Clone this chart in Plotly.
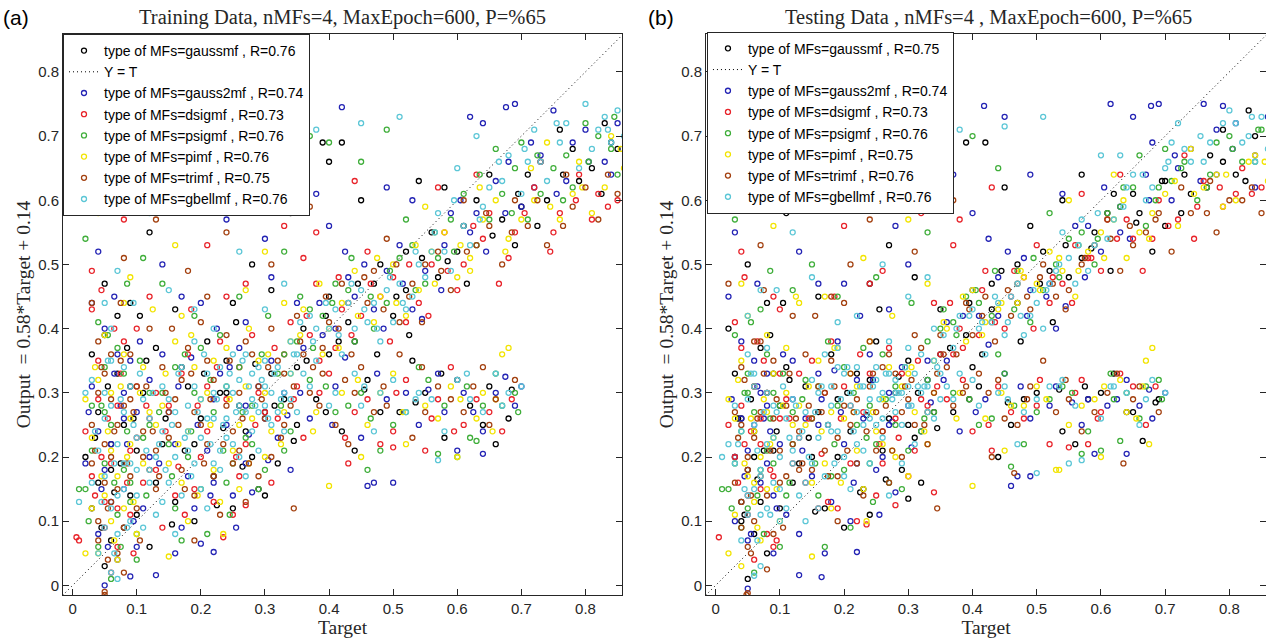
import plotly.graph_objects as go

# ---------------- data ----------------
names = ["gaussmf", "gauss2mf", "dsigmf", "psigmf", "pimf", "trimf", "gbellmf"]
colors = ["#000000", "#2323b4", "#e8232a", "#3fae3a", "#f2e400", "#a3400f", "#5bc6d6"]
train_R = ["0.76", "0.74", "0.73", "0.76", "0.76", "0.75", "0.76"]
test_R = ["0.75", "0.74", "0.73", "0.76", "0.75", "0.76", "0.76"]
tick_vals = [0, 0.1, 0.2, 0.3, 0.4, 0.5, 0.6, 0.7, 0.8]
tick_labels = ["0", "0.1", "0.2", "0.3", "0.4", "0.5", "0.6", "0.7", "0.8"]
identity_line = [-0.02, 0.87]

train_gaussmf = [(0.03,0.12),(0.05,0.03),(0.06,0.18),(0.04,0.27),(0.08,0.09),(0.07,0.33),(0.10,0.21),(0.05,0.39),(0.09,0.14),(0.11,0.30),(0.03,0.36),(0.06,0.07),(0.08,0.25),(0.04,0.16),(0.12,0.06),(0.07,0.42),(0.02,0.20),(0.10,0.11),
    (0.14,0.22),(0.18,0.31),(0.22,0.17),(0.26,0.28),(0.31,0.33),(0.16,0.13),(0.20,0.26),(0.24,0.35),(0.28,0.20),(0.33,0.29),(0.13,0.37),(0.19,0.10),(0.23,0.30),(0.29,0.15),(0.35,0.25),(0.17,0.34),(0.27,0.24),(0.21,0.38),(0.32,0.19),(0.25,0.12),
    (0.38,0.29),(0.42,0.24),(0.46,0.32),(0.51,0.27),(0.55,0.30),(0.58,0.23),(0.62,0.28),(0.65,0.31),(0.68,0.26),(0.44,0.21),(0.53,0.35),(0.66,0.22),
    (0.36,0.40),(0.40,0.45),(0.44,0.38),(0.48,0.50),(0.52,0.46),(0.56,0.55),(0.60,0.52),(0.63,0.60),(0.67,0.57),(0.71,0.64),(0.74,0.60),(0.78,0.68),(0.81,0.65),(0.84,0.69),(0.50,0.42),(0.58,0.62),(0.69,0.53),(0.76,0.71),
    (0.05,0.47),(0.12,0.55),(0.20,0.62),(0.28,0.50),(0.34,0.58),(0.09,0.44),(0.40,0.66),(0.25,0.44),
    (0.39,0.69),(0.42,0.69),(0.30,0.14),(0.85,0.68),
    (0.06,0.22),(0.09,0.31),(0.13,0.16),(0.19,0.22),(0.24,0.30),(0.30,0.27),(0.35,0.34),(0.40,0.36),(0.43,0.41),(0.47,0.47),(0.52,0.52),(0.57,0.48),(0.61,0.56),(0.65,0.64),(0.70,0.59),(0.73,0.66),(0.79,0.63),(0.83,0.72),(0.48,0.27),(0.60,0.32),(0.64,0.25),(0.16,0.43),(0.31,0.46),(0.45,0.60),(0.54,0.63)]
train_gaussmf_more = [(0.035,0.23),(0.055,0.31),(0.075,0.19),(0.085,0.37),(0.045,0.09),(0.095,0.26),(0.065,0.145),(0.115,0.35),
    (0.145,0.26),(0.175,0.21),(0.205,0.33),(0.235,0.245),(0.265,0.185),(0.285,0.345),(0.315,0.28),(0.345,0.225),(0.155,0.095),(0.225,0.125),
    (0.365,0.35),(0.395,0.42),(0.415,0.38),(0.445,0.47),(0.475,0.36),(0.505,0.45),(0.525,0.39),(0.545,0.51),
    (0.585,0.505),(0.615,0.47),(0.655,0.545),(0.695,0.61),(0.725,0.56),(0.765,0.64),(0.825,0.61),
    (0.395,0.27),(0.455,0.305),(0.535,0.285),(0.575,0.33),(0.685,0.305),(0.105,0.42),(0.255,0.41)]
train_gauss2mf = [(0.04,0.08),(0.06,0.22),(0.03,0.31),(0.08,0.15),(0.05,0.40),(0.10,0.27),(0.07,0.04),(0.02,0.19),(0.09,0.35),(0.11,0.12),(0.05,0.00),(0.06,0.13),(0.04,0.24),(0.08,0.30),(0.12,0.20),(0.03,0.44),(0.07,0.36),(0.10,0.06),
    (0.15,0.27),(0.19,0.12),(0.23,0.33),(0.27,0.19),(0.30,0.26),(0.14,0.36),(0.21,0.21),(0.25,0.14),(0.29,0.31),(0.34,0.18),(0.17,0.09),(0.22,0.29),(0.26,0.37),(0.32,0.23),(0.18,0.17),(0.28,0.145),(0.24,0.25),(0.31,0.35),(0.20,0.065),(0.16,0.05),
    (0.37,0.26),(0.41,0.31),(0.45,0.23),(0.49,0.29),(0.54,0.25),(0.57,0.33),(0.61,0.30),(0.64,0.24),(0.69,0.28),(0.47,0.16),(0.60,0.21),(0.70,0.31),
    (0.35,0.44),(0.39,0.39),(0.43,0.48),(0.47,0.43),(0.51,0.53),(0.55,0.49),(0.59,0.58),(0.62,0.55),(0.66,0.63),(0.70,0.59),(0.73,0.67),(0.77,0.63),(0.80,0.71),(0.83,0.66),(0.53,0.60),(0.64,0.72),(0.75,0.74),(0.85,0.72),
    (0.04,0.52),(0.10,0.60),(0.17,0.45),(0.24,0.57),(0.31,0.48),(0.38,0.61),(0.14,0.50),(0.30,0.54),
    (0.22,0.052),(0.13,0.016),(0.46,0.155),(0.50,0.16),(0.64,0.205),(0.09,0.014),(0.42,0.745),(0.676,0.745),(0.69,0.75),(0.62,0.73),
    (0.05,0.18),(0.08,0.26),(0.12,0.32),(0.16,0.22),(0.22,0.16),(0.27,0.28),(0.33,0.30),(0.36,0.37),(0.41,0.40),(0.44,0.45),(0.49,0.49),(0.53,0.43),(0.58,0.53),(0.63,0.58),(0.68,0.66),(0.72,0.62),(0.78,0.69),(0.84,0.64),(0.52,0.30),(0.58,0.27),(0.66,0.30),(0.20,0.44),(0.27,0.41),(0.40,0.56),(0.49,0.62)]
train_gauss2mf_more = [(0.025,0.27),(0.045,0.15),(0.065,0.33),(0.085,0.22),(0.105,0.38),(0.055,0.06),(0.075,0.28),(0.095,0.10),
    (0.135,0.19),(0.165,0.31),(0.195,0.25),(0.215,0.14),(0.245,0.34),(0.275,0.235),(0.305,0.195),(0.335,0.265),(0.185,0.355),(0.255,0.09),
    (0.355,0.30),(0.385,0.44),(0.425,0.355),(0.455,0.50),(0.485,0.40),(0.515,0.47),(0.545,0.415),(0.425,0.52),
    (0.575,0.46),(0.605,0.60),(0.645,0.52),(0.675,0.58),(0.715,0.69),(0.755,0.61),(0.805,0.66),
    (0.405,0.25),(0.475,0.33),(0.555,0.305),(0.625,0.27),(0.675,0.325),(0.065,0.45),(0.225,0.40)]
train_dsigmf = [(0.03,0.17),(0.05,0.09),(0.07,0.28),(0.04,0.35),(0.09,0.21),(0.06,0.02),(0.11,0.16),(0.02,0.24),(0.08,0.38),(0.10,0.31),(0.05,0.13),(0.03,0.43),(0.07,0.06),(0.12,0.26),(0.06,0.19),(0.09,0.11),(0.04,0.29),(0.01,0.07),
    (0.13,0.18),(0.17,0.33),(0.21,0.24),(0.25,0.11),(0.29,0.30),(0.33,0.36),(0.15,0.28),(0.19,0.15),(0.23,0.38),(0.27,0.22),(0.31,0.16),(0.14,0.09),(0.20,0.20),(0.26,0.34),(0.30,0.27),(0.18,0.36),(0.24,0.29),(0.22,0.13),(0.28,0.39),(0.35,0.31),
    (0.36,0.23),(0.40,0.33),(0.44,0.27),(0.48,0.22),(0.52,0.32),(0.56,0.26),(0.59,0.34),(0.63,0.29),(0.67,0.24),(0.43,0.19),(0.55,0.21),(0.61,0.25),
    (0.34,0.41),(0.38,0.47),(0.42,0.43),(0.46,0.52),(0.50,0.48),(0.54,0.44),(0.58,0.55),(0.61,0.50),(0.65,0.58),(0.69,0.55),(0.72,0.62),(0.76,0.58),(0.79,0.64),(0.82,0.61),(0.85,0.60),(0.57,0.62),(0.73,0.66),(0.63,0.64),
    (0.03,0.49),(0.08,0.57),(0.15,0.61),(0.21,0.53),(0.27,0.47),(0.33,0.56),(0.12,0.45),(0.36,0.51),(0.19,0.61),(0.44,0.63),
    (0.006,0.075),(0.27,0.125),(0.50,0.215),
    (0.07,0.12),(0.10,0.23),(0.13,0.30),(0.16,0.14),(0.21,0.31),(0.26,0.17),(0.32,0.26),(0.37,0.39),(0.41,0.37),(0.45,0.42),(0.48,0.45),(0.52,0.41),(0.56,0.50),(0.60,0.46),(0.64,0.54),(0.68,0.51),(0.75,0.55),(0.81,0.57),(0.46,0.29),(0.50,0.24),(0.57,0.29),(0.65,0.27),(0.10,0.40),(0.24,0.45),(0.38,0.55)]
train_dsigmf_more = [(0.035,0.14),(0.055,0.26),(0.075,0.33),(0.095,0.05),(0.045,0.20),(0.085,0.16),(0.115,0.28),(0.065,0.40),
    (0.145,0.24),(0.175,0.11),(0.195,0.28),(0.225,0.34),(0.255,0.20),(0.285,0.25),(0.315,0.37),(0.345,0.29),(0.165,0.185),(0.235,0.075),
    (0.365,0.42),(0.385,0.35),(0.415,0.48),(0.435,0.39),(0.465,0.47),(0.495,0.38),(0.525,0.50),(0.555,0.42),
    (0.585,0.49),(0.625,0.56),(0.665,0.47),(0.705,0.58),(0.745,0.52),(0.785,0.60),(0.835,0.59),
    (0.385,0.30),(0.425,0.23),(0.505,0.30),(0.595,0.24),(0.685,0.29),(0.045,0.46),(0.185,0.43)]
train_psigmf = [(0.04,0.06),(0.06,0.25),(0.02,0.15),(0.08,0.33),(0.05,0.19),(0.10,0.08),(0.07,0.37),(0.03,0.28),(0.09,0.13),(0.11,0.23),(0.06,0.01),(0.04,0.41),(0.08,0.18),(0.12,0.30),(0.05,0.34),(0.07,0.11),(0.03,0.21),(0.10,0.04),
    (0.14,0.30),(0.18,0.20),(0.22,0.27),(0.26,0.34),(0.30,0.18),(0.34,0.24),(0.16,0.12),(0.20,0.37),(0.24,0.16),(0.28,0.28),(0.32,0.33),(0.15,0.22),(0.21,0.08),(0.27,0.23),(0.19,0.30),(0.25,0.19),(0.23,0.39),(0.29,0.15),(0.33,0.21),(0.17,0.07),
    (0.37,0.32),(0.41,0.27),(0.45,0.30),(0.50,0.25),(0.54,0.34),(0.58,0.28),(0.62,0.23),(0.66,0.33),(0.69,0.30),(0.48,0.21),(0.60,0.20),(0.64,0.28),
    (0.35,0.38),(0.39,0.42),(0.43,0.46),(0.47,0.40),(0.51,0.51),(0.55,0.47),(0.59,0.57),(0.63,0.53),(0.67,0.61),(0.71,0.57),(0.75,0.65),(0.78,0.62),(0.82,0.70),(0.85,0.64),(0.52,0.57),(0.66,0.68),(0.80,0.72),(0.70,0.69),
    (0.02,0.54),(0.07,0.62),(0.14,0.47),(0.22,0.59),(0.29,0.64),(0.37,0.70),(0.11,0.51),(0.40,0.69),(0.45,0.66),(0.26,0.45),(0.49,0.71),
    (0.46,0.18),(0.63,0.225),(0.01,0.15),(0.57,0.205),
    (0.05,0.27),(0.09,0.16),(0.12,0.25),(0.16,0.34),(0.20,0.15),(0.24,0.31),(0.28,0.22),(0.33,0.36),(0.37,0.43),(0.41,0.47),(0.44,0.38),(0.49,0.44),(0.53,0.53),(0.57,0.51),(0.61,0.61),(0.65,0.57),(0.69,0.65),(0.73,0.61),(0.77,0.67),(0.84,0.68),(0.43,0.28),(0.52,0.27),(0.67,0.28),(0.19,0.42),(0.33,0.52)]
train_psigmf_more = [(0.025,0.10),(0.045,0.28),(0.065,0.16),(0.085,0.24),(0.105,0.35),(0.055,0.39),(0.075,0.06),(0.115,0.14),
    (0.135,0.27),(0.155,0.17),(0.185,0.24),(0.215,0.32),(0.235,0.21),(0.265,0.27),(0.295,0.36),(0.325,0.28),(0.175,0.36),(0.245,0.11),
    (0.355,0.45),(0.375,0.37),(0.405,0.44),(0.435,0.51),(0.465,0.45),(0.495,0.49),(0.535,0.46),(0.565,0.55),
    (0.595,0.52),(0.635,0.64),(0.685,0.58),(0.725,0.67),(0.765,0.60),(0.805,0.66),(0.845,0.73),
    (0.395,0.31),(0.465,0.26),(0.555,0.32),(0.615,0.31),(0.695,0.27),(0.085,0.47),(0.305,0.42)]
train_pimf = [(0.05,0.14),(0.03,0.23),(0.07,0.04),(0.09,0.26),(0.04,0.32),(0.06,0.10),(0.11,0.19),(0.08,0.36),(0.02,0.29),(0.10,0.08),(0.05,0.39),(0.07,0.17),(0.12,0.27),(0.04,0.05),(0.09,0.22),(0.06,0.30),(0.03,0.12),(0.08,0.44),
    (0.13,0.25),(0.17,0.16),(0.21,0.30),(0.25,0.21),(0.29,0.35),(0.33,0.27),(0.15,0.19),(0.19,0.34),(0.23,0.13),(0.27,0.31),(0.31,0.24),(0.16,0.38),(0.22,0.18),(0.28,0.26),(0.34,0.33),(0.18,0.10),(0.26,0.15),(0.20,0.29),(0.30,0.20),(0.24,0.37),
    (0.38,0.27),(0.42,0.30),(0.46,0.25),(0.50,0.33),(0.55,0.28),(0.59,0.31),(0.63,0.26),(0.67,0.36),(0.68,0.37),(0.45,0.20),(0.52,0.22),(0.66,0.29),
    (0.36,0.43),(0.40,0.40),(0.44,0.49),(0.48,0.45),(0.52,0.42),(0.56,0.52),(0.60,0.48),(0.64,0.57),(0.68,0.54),(0.72,0.60),(0.76,0.57),(0.79,0.66),(0.83,0.62),(0.86,0.65),(0.55,0.59),(0.62,0.51),(0.74,0.69),(0.81,0.58),
    (0.04,0.58),(0.09,0.48),(0.16,0.53),(0.23,0.60),(0.30,0.52),(0.36,0.64),(0.13,0.63),(0.27,0.46),
    (0.40,0.155),(0.60,0.20),(0.15,0.045),(0.02,0.05),
    (0.06,0.21),(0.08,0.12),(0.11,0.34),(0.14,0.28),(0.18,0.24),(0.22,0.35),(0.26,0.25),(0.30,0.30),(0.34,0.38),(0.39,0.36),(0.42,0.44),(0.47,0.41),(0.50,0.50),(0.54,0.46),(0.58,0.55),(0.62,0.49),(0.66,0.60),(0.70,0.57),(0.78,0.61),(0.84,0.70),(0.48,0.30),(0.57,0.26),(0.64,0.30),(0.17,0.42),(0.33,0.44)]
train_pimf_more = [(0.035,0.34),(0.055,0.24),(0.075,0.31),(0.095,0.13),(0.045,0.17),(0.065,0.07),(0.105,0.30),(0.085,0.20),
    (0.145,0.33),(0.165,0.22),(0.195,0.14),(0.215,0.25),(0.245,0.29),(0.275,0.19),(0.305,0.36),(0.325,0.22),(0.185,0.39),(0.235,0.08),
    (0.355,0.39),(0.385,0.47),(0.415,0.37),(0.445,0.42),(0.475,0.51),(0.505,0.44),(0.535,0.53),(0.565,0.47),
    (0.605,0.53),(0.635,0.62),(0.675,0.52),(0.715,0.65),(0.745,0.59),(0.795,0.62),(0.855,0.68),
    (0.375,0.24),(0.445,0.32),(0.515,0.27),(0.605,0.29),(0.655,0.24),(0.125,0.43),(0.275,0.40)]
train_trimf = [(0.04,0.10),(0.06,0.20),(0.08,0.28),(0.05,0.33),(0.07,0.05),(0.03,0.25),(0.09,0.17),(0.10,0.31),(0.06,0.13),(0.04,0.38),(0.08,0.09),(0.11,0.24),(0.05,0.22),(0.07,0.15),(0.09,0.36),(0.03,0.19),(0.06,0.29),(0.12,0.18),(0.08,0.02),(0.05,-0.01),(0.10,0.12),(0.04,0.30),
    (0.13,0.21),(0.16,0.29),(0.19,0.14),(0.22,0.32),(0.25,0.24),(0.28,0.36),(0.31,0.20),(0.34,0.28),(0.14,0.34),(0.17,0.18),(0.20,0.25),(0.23,0.11),(0.26,0.30),(0.29,0.17),(0.32,0.35),(0.15,0.27),(0.18,0.37),(0.21,0.22),(0.24,0.39),(0.27,0.13),(0.30,0.26),(0.33,0.33),(0.19,0.07),(0.25,0.19),
    (0.37,0.30),(0.41,0.25),(0.45,0.34),(0.49,0.28),(0.53,0.23),(0.57,0.31),(0.61,0.27),(0.65,0.25),(0.69,0.32),(0.43,0.22),(0.51,0.36),(0.64,0.34),
    (0.35,0.42),(0.39,0.37),(0.43,0.44),(0.47,0.49),(0.51,0.41),(0.55,0.50),(0.59,0.46),(0.63,0.53),(0.67,0.50),(0.71,0.56),(0.74,0.53),(0.78,0.59),(0.82,0.57),(0.85,0.61),(0.49,0.54),(0.61,0.60),(0.77,0.64),
    (0.03,0.44),(0.08,0.51),(0.13,0.57),(0.18,0.49),(0.24,0.55),(0.31,0.50),(0.37,0.59),(0.06,0.62),(0.21,0.45),(0.28,0.60),
    (0.345,0.12),(0.05,-0.015),
    (0.05,0.16),(0.07,0.25),(0.09,0.29),(0.11,0.20),(0.06,0.36),(0.04,0.07),(0.13,0.15),(0.15,0.23),(0.17,0.32),(0.19,0.27),(0.21,0.35),(0.22,0.17),(0.24,0.28),(0.26,0.21),(0.27,0.38),(0.29,0.31),(0.31,0.40),(0.33,0.25),(0.36,0.36),(0.39,0.33),(0.40,0.41),(0.44,0.30),(0.47,0.27),(0.55,0.27),(0.59,0.29),(0.66,0.29),(0.42,0.47),(0.46,0.44),(0.53,0.47),(0.57,0.52),(0.65,0.56),(0.69,0.60),(0.80,0.62),(0.12,0.40),(0.20,0.41)]
train_trimf_more = [(0.035,0.21),(0.045,0.34),(0.055,0.12),(0.065,0.24),(0.075,0.35),(0.085,0.19),(0.095,0.27),(0.105,0.07),(0.115,0.31),(0.055,0.04),
    (0.125,0.24),(0.135,0.17),(0.145,0.30),(0.165,0.25),(0.175,0.15),(0.185,0.33),(0.205,0.19),(0.215,0.29),(0.235,0.22),(0.245,0.35),(0.265,0.26),(0.275,0.19),(0.295,0.29),(0.305,0.34),(0.325,0.23),(0.345,0.31),
    (0.355,0.38),(0.375,0.34),(0.395,0.45),(0.415,0.40),(0.435,0.36),(0.455,0.48),(0.485,0.43),(0.505,0.50),(0.525,0.45),(0.545,0.41),
    (0.575,0.49),(0.615,0.52),(0.645,0.58),(0.685,0.55),(0.725,0.60),(0.765,0.56),(0.835,0.64),
    (0.385,0.28),(0.425,0.32),(0.485,0.31),(0.545,0.34),(0.625,0.31),(0.075,0.44),(0.155,0.40)]
train_gbellmf = [(0.04,0.05),(0.06,0.12),(0.08,0.19),(0.05,0.26),(0.07,0.08),(0.09,0.31),(0.03,0.16),(0.10,0.23),(0.06,0.35),(0.08,0.15),(0.04,0.21),(0.11,0.29),(0.07,0.01),(0.05,0.30),(0.09,0.10),(0.12,0.18),(0.06,0.40),(0.08,0.27),(0.10,0.14),(0.03,0.32),(0.07,0.22),(0.05,0.17),
    (0.12,0.16),(0.14,0.24),(0.16,0.20),(0.18,0.28),(0.20,0.23),(0.22,0.30),(0.24,0.26),(0.26,0.32),(0.28,0.29),(0.30,0.31),(0.32,0.27),(0.34,0.33),(0.13,0.11),(0.15,0.29),(0.17,0.14),(0.19,0.19),(0.21,0.33),(0.23,0.18),(0.25,0.22),(0.27,0.27),(0.29,0.34),(0.31,0.25),(0.33,0.30),(0.35,0.36),(0.14,0.31),(0.16,0.08),(0.18,0.24),(0.20,0.15),(0.22,0.26),(0.24,0.31),(0.26,0.20),(0.28,0.24),(0.30,0.28),(0.17,0.34),(0.21,0.12),(0.25,0.36),(0.29,0.21),(0.19,0.38),(0.23,0.21),(0.27,0.17),
    (0.37,0.31),(0.40,0.28),(0.44,0.33),(0.48,0.30),(0.52,0.27),(0.56,0.29),(0.60,0.32),(0.64,0.27),(0.68,0.30),(0.70,0.31),(0.47,0.24),(0.58,0.24),(0.66,0.33),
    (0.34,0.38),(0.37,0.42),(0.40,0.40),(0.43,0.44),(0.46,0.41),(0.49,0.46),(0.52,0.43),(0.55,0.48),(0.58,0.52),(0.61,0.56),(0.64,0.59),(0.67,0.63),(0.70,0.61),(0.73,0.66),(0.76,0.69),(0.79,0.65),(0.82,0.71),(0.85,0.74),(0.42,0.36),(0.48,0.38),(0.54,0.50),(0.60,0.65),(0.72,0.71),(0.80,0.75),(0.84,0.69),
    (0.02,0.30),(0.07,0.49),(0.12,0.58),(0.19,0.43),(0.26,0.52),(0.33,0.47),(0.38,0.71),(0.10,0.62),(0.45,0.72),(0.51,0.73),
    (0.57,0.195),(0.01,0.13),(0.06,0.02),
    (0.05,0.09),(0.07,0.14),(0.09,0.19),(0.06,0.28),(0.08,0.34),(0.11,0.09),(0.13,0.20),(0.15,0.16),(0.16,0.27),(0.18,0.21),(0.19,0.31),(0.21,0.26),(0.22,0.19),(0.23,0.34),(0.24,0.23),(0.26,0.28),(0.27,0.36),(0.28,0.33),(0.29,0.27),(0.31,0.30),(0.32,0.34),(0.33,0.24),(0.34,0.29),(0.36,0.33),(0.12,0.26),(0.14,0.13),(0.10,0.18),(0.20,0.29),(0.25,0.30),(0.30,0.35),(0.35,0.27),(0.38,0.35),
    (0.41,0.30),(0.45,0.28),(0.50,0.32),(0.54,0.30),(0.62,0.29),(0.67,0.28),
    (0.38,0.40),(0.41,0.43),(0.44,0.40),(0.45,0.46),(0.47,0.44),(0.50,0.41),(0.51,0.47),(0.53,0.45),(0.56,0.52),(0.59,0.49),(0.62,0.53),(0.65,0.62),(0.68,0.67),(0.71,0.66),(0.74,0.63),(0.77,0.72),(0.81,0.68),(0.83,0.73),(0.86,0.70),(0.63,0.70),(0.57,0.58),
    (0.15,0.46),(0.22,0.40),(0.30,0.43),(0.05,0.44)]
train_gbellmf_more = [(0.035,0.24),(0.045,0.13),(0.055,0.35),(0.065,0.19),(0.075,0.29),(0.085,0.09),(0.095,0.25),(0.105,0.33),(0.115,0.21),(0.065,0.05),
    (0.125,0.30),(0.135,0.22),(0.145,0.18),(0.155,0.25),(0.165,0.33),(0.175,0.23),(0.185,0.17),(0.195,0.27),(0.205,0.36),(0.215,0.22),(0.225,0.29),(0.235,0.25),(0.245,0.33),(0.255,0.27),(0.265,0.35),(0.275,0.31),(0.285,0.28),(0.295,0.32),(0.305,0.26),(0.315,0.33),(0.325,0.29),(0.345,0.36),
    (0.355,0.41),(0.375,0.38),(0.395,0.44),(0.415,0.39),(0.435,0.47),(0.455,0.43),(0.475,0.40),(0.495,0.48),(0.515,0.44),(0.535,0.52),
    (0.565,0.55),(0.595,0.60),(0.635,0.57),(0.665,0.66),(0.705,0.68),(0.755,0.72),(0.835,0.71),
    (0.455,0.31),(0.535,0.29),(0.615,0.33),(0.095,0.44)]

test_gaussmf = [(0.04,0.10),(0.06,0.24),(0.03,0.33),(0.08,0.05),(0.05,0.18),(0.10,0.28),(0.07,0.13),(0.02,0.40),(0.09,0.21),(0.11,0.34),(0.05,0.01),(0.07,0.37),(0.04,0.26),(0.12,0.16),(0.06,0.08),(0.08,0.30),(0.03,0.20),(0.10,0.12),
    (0.15,0.20),(0.19,0.29),(0.23,0.15),(0.27,0.26),(0.30,0.35),(0.14,0.31),(0.21,0.24),(0.25,0.38),(0.29,0.18),(0.34,0.27),(0.17,0.12),(0.22,0.33),(0.26,0.21),(0.32,0.16),(0.18,0.36),(0.28,0.30),(0.24,0.11),(0.31,0.23),(0.20,0.09),(0.16,0.27),
    (0.37,0.27),(0.41,0.31),(0.46,0.25),(0.50,0.30),(0.54,0.24),(0.58,0.29),(0.62,0.33),(0.65,0.27),(0.69,0.29),(0.44,0.20),(0.56,0.22),(0.665,0.225),
    (0.35,0.43),(0.39,0.39),(0.43,0.47),(0.47,0.44),(0.51,0.52),(0.55,0.48),(0.59,0.55),(0.62,0.61),(0.66,0.58),(0.70,0.63),(0.74,0.61),(0.77,0.67),(0.81,0.64),(0.84,0.70),(0.49,0.56),(0.57,0.64),(0.68,0.52),(0.79,0.71),
    (0.05,0.50),(0.11,0.58),(0.19,0.64),(0.27,0.53),(0.33,0.60),(0.08,0.44),(0.39,0.69),(0.24,0.47),(0.42,0.69),
    (0.04,0.13),(0.30,0.135),
    (0.06,0.20),(0.09,0.33),(0.13,0.19),(0.19,0.20),(0.24,0.32),(0.30,0.25),(0.35,0.36),(0.40,0.34),(0.43,0.43),(0.47,0.50),(0.52,0.49),(0.57,0.51),(0.61,0.58),(0.65,0.61),(0.70,0.56),(0.73,0.64),(0.79,0.66),(0.83,0.74),(0.48,0.29),(0.60,0.30),(0.64,0.27),(0.16,0.45),(0.31,0.48),(0.45,0.62),(0.54,0.60)]
test_gaussmf_more = [(0.035,0.26),(0.055,0.29),(0.075,0.21),(0.085,0.39),(0.045,0.11),(0.095,0.24),(0.065,0.165),(0.115,0.32),
    (0.145,0.23),(0.175,0.25),(0.205,0.30),(0.235,0.265),(0.265,0.165),(0.285,0.325),(0.315,0.30),(0.345,0.245),(0.155,0.115),(0.225,0.145),
    (0.365,0.37),(0.395,0.44),(0.415,0.36),(0.445,0.49),(0.475,0.38),(0.505,0.47),(0.525,0.41),(0.545,0.53),
    (0.585,0.525),(0.615,0.49),(0.655,0.565),(0.695,0.63),(0.725,0.58),(0.765,0.62),(0.825,0.63),
    (0.395,0.29),(0.455,0.285),(0.535,0.305),(0.575,0.31),(0.685,0.285),(0.105,0.44),(0.255,0.43)]
test_gauss2mf = [(0.05,0.07),(0.03,0.20),(0.07,0.30),(0.09,0.14),(0.04,0.38),(0.06,0.25),(0.11,0.11),(0.08,0.33),(0.02,0.45),(0.10,0.22),(0.05,-0.005),(0.07,0.16),(0.12,0.29),(0.04,0.26),(0.09,0.05),(0.06,0.35),(0.03,0.10),(0.08,0.19),
    (0.14,0.26),(0.18,0.13),(0.22,0.32),(0.26,0.20),(0.30,0.28),(0.33,0.35),(0.15,0.17),(0.20,0.22),(0.24,0.36),(0.28,0.145),(0.32,0.24),(0.16,0.33),(0.21,0.10),(0.27,0.30),(0.19,0.38),(0.25,0.18),(0.23,0.26),(0.29,0.34),(0.17,0.05),(0.13,0.08),
    (0.38,0.24),(0.42,0.29),(0.45,0.33),(0.49,0.26),(0.53,0.31),(0.57,0.25),(0.61,0.28),(0.64,0.32),(0.68,0.26),(0.47,0.17),(0.59,0.205),(0.70,0.30),
    (0.36,0.41),(0.40,0.46),(0.44,0.42),(0.48,0.51),(0.52,0.47),(0.56,0.56),(0.60,0.52),(0.63,0.59),(0.67,0.64),(0.71,0.60),(0.74,0.68),(0.78,0.64),(0.81,0.72),(0.84,0.67),(0.54,0.61),(0.65,0.73),(0.76,0.75),(0.86,0.73),
    (0.03,0.55),(0.10,0.61),(0.16,0.47),(0.23,0.59),(0.30,0.50),(0.37,0.64),(0.13,0.52),(0.28,0.56),(0.45,0.73),
    (0.22,0.052),(0.13,0.016),(0.165,0.013),(0.46,0.155),(0.49,0.17),(0.64,0.205),(0.418,0.747),(0.615,0.75),(0.678,0.747),(0.69,0.75),(0.79,0.747),
    (0.05,0.21),(0.08,0.28),(0.12,0.35),(0.16,0.25),(0.22,0.19),(0.27,0.25),(0.33,0.32),(0.36,0.35),(0.41,0.42),(0.44,0.48),(0.49,0.46),(0.53,0.40),(0.58,0.56),(0.63,0.55),(0.68,0.69),(0.72,0.65),(0.78,0.71),(0.84,0.62),(0.52,0.28),(0.58,0.29),(0.66,0.28),(0.20,0.47),(0.27,0.43),(0.40,0.58),(0.49,0.64)]
test_gauss2mf_more = [(0.025,0.29),(0.045,0.17),(0.065,0.31),(0.085,0.24),(0.105,0.36),(0.055,0.08),(0.075,0.26),(0.095,0.12),
    (0.135,0.21),(0.165,0.29),(0.195,0.27),(0.215,0.16),(0.245,0.32),(0.275,0.255),(0.305,0.215),(0.335,0.285),(0.185,0.335),(0.255,0.11),
    (0.355,0.32),(0.385,0.42),(0.425,0.375),(0.455,0.52),(0.485,0.42),(0.515,0.45),(0.545,0.435),(0.425,0.54),
    (0.575,0.48),(0.605,0.62),(0.645,0.54),(0.675,0.60),(0.715,0.67),(0.755,0.63),(0.805,0.68),
    (0.405,0.27),(0.475,0.31),(0.555,0.285),(0.625,0.29),(0.675,0.305),(0.065,0.47),(0.225,0.42)]
test_dsigmf = [(0.03,0.20),(0.05,0.11),(0.07,0.26),(0.04,0.37),(0.09,0.17),(0.06,0.04),(0.11,0.29),(0.02,0.25),(0.08,0.08),(0.10,0.33),(0.05,0.14),(0.03,0.41),(0.07,0.22),(0.12,0.19),(0.06,0.31),(0.09,0.06),(0.04,0.28),(0.005,0.075),
    (0.13,0.23),(0.17,0.30),(0.21,0.19),(0.25,0.14),(0.29,0.33),(0.33,0.28),(0.15,0.35),(0.19,0.12),(0.23,0.27),(0.27,0.37),(0.31,0.21),(0.14,0.16),(0.20,0.31),(0.26,0.24),(0.30,0.17),(0.18,0.38),(0.24,0.33),(0.22,0.10),(0.28,0.26),(0.35,0.36),
    (0.36,0.29),(0.40,0.24),(0.44,0.31),(0.48,0.26),(0.52,0.22),(0.56,0.30),(0.60,0.27),(0.63,0.33),(0.67,0.25),(0.43,0.21),(0.55,0.215),(0.58,0.22),
    (0.34,0.44),(0.38,0.40),(0.42,0.49),(0.46,0.45),(0.50,0.53),(0.54,0.47),(0.58,0.51),(0.61,0.57),(0.65,0.54),(0.69,0.60),(0.72,0.57),(0.76,0.63),(0.79,0.59),(0.82,0.65),(0.85,0.62),(0.57,0.61),(0.73,0.67),(0.63,0.64),
    (0.04,0.52),(0.09,0.45),(0.14,0.60),(0.20,0.56),(0.26,0.49),(0.32,0.58),(0.11,0.63),(0.37,0.53),(0.18,0.61),(0.43,0.62),
    (0.28,0.125),(0.34,0.145),
    (0.07,0.15),(0.10,0.26),(0.13,0.33),(0.16,0.12),(0.21,0.28),(0.26,0.19),(0.32,0.29),(0.37,0.36),(0.41,0.39),(0.45,0.40),(0.48,0.48),(0.52,0.44),(0.56,0.53),(0.60,0.49),(0.64,0.57),(0.68,0.54),(0.75,0.59),(0.81,0.61),(0.46,0.27),(0.50,0.28),(0.57,0.32),(0.65,0.31),(0.10,0.43),(0.24,0.47),(0.38,0.57)]
test_dsigmf_more = [(0.035,0.16),(0.055,0.24),(0.075,0.35),(0.095,0.07),(0.045,0.22),(0.085,0.18),(0.115,0.26),(0.065,0.38),
    (0.145,0.26),(0.175,0.13),(0.195,0.26),(0.225,0.36),(0.255,0.22),(0.285,0.23),(0.315,0.35),(0.345,0.31),(0.165,0.205),(0.235,0.095),
    (0.365,0.44),(0.385,0.37),(0.415,0.46),(0.435,0.41),(0.465,0.49),(0.495,0.40),(0.525,0.48),(0.555,0.44),
    (0.585,0.51),(0.625,0.54),(0.665,0.49),(0.705,0.56),(0.745,0.54),(0.785,0.62),(0.835,0.61),
    (0.385,0.32),(0.425,0.25),(0.505,0.32),(0.595,0.26),(0.685,0.31),(0.045,0.48),(0.185,0.45)]
test_psigmf = [(0.04,0.09),(0.06,0.27),(0.02,0.15),(0.08,0.21),(0.05,0.33),(0.10,0.06),(0.07,0.18),(0.03,0.39),(0.09,0.30),(0.11,0.14),(0.06,0.02),(0.04,0.24),(0.08,0.36),(0.12,0.22),(0.05,0.12),(0.07,0.43),(0.03,0.19),(0.10,0.28),
    (0.14,0.32),(0.18,0.17),(0.22,0.25),(0.26,0.36),(0.30,0.21),(0.34,0.27),(0.16,0.14),(0.20,0.34),(0.24,0.19),(0.28,0.31),(0.32,0.24),(0.15,0.26),(0.21,0.09),(0.27,0.16),(0.19,0.28),(0.25,0.22),(0.23,0.37),(0.29,0.15),(0.33,0.32),(0.17,0.06),
    (0.37,0.30),(0.41,0.25),(0.45,0.33),(0.50,0.27),(0.54,0.31),(0.58,0.24),(0.62,0.29),(0.66,0.26),(0.69,0.32),(0.48,0.22),(0.60,0.21),(0.64,0.30),
    (0.35,0.40),(0.39,0.45),(0.43,0.42),(0.47,0.49),(0.51,0.46),(0.55,0.54),(0.59,0.50),(0.63,0.59),(0.67,0.56),(0.71,0.63),(0.75,0.60),(0.78,0.69),(0.82,0.66),(0.85,0.71),(0.52,0.58),(0.66,0.67),(0.80,0.70),(0.70,0.68),
    (0.03,0.57),(0.08,0.64),(0.15,0.50),(0.21,0.61),(0.28,0.66),(0.36,0.71),(0.12,0.46),(0.40,0.70),(0.44,0.65),(0.25,0.48),(0.17,0.72),
    (0.46,0.185),(0.63,0.225),(0.01,0.15),(0.57,0.205),
    (0.05,0.30),(0.09,0.19),(0.12,0.27),(0.16,0.31),(0.20,0.18),(0.24,0.28),(0.28,0.25),(0.33,0.38),(0.37,0.41),(0.41,0.44),(0.44,0.36),(0.49,0.41),(0.53,0.50),(0.57,0.55),(0.61,0.58),(0.65,0.62),(0.69,0.62),(0.73,0.66),(0.77,0.64),(0.84,0.66),(0.43,0.26),(0.52,0.29),(0.67,0.31),(0.19,0.45),(0.33,0.55)]
test_psigmf_more = [(0.025,0.12),(0.045,0.30),(0.065,0.14),(0.085,0.26),(0.105,0.33),(0.055,0.41),(0.075,0.08),(0.115,0.16),
    (0.135,0.29),(0.155,0.19),(0.185,0.22),(0.215,0.30),(0.235,0.23),(0.265,0.29),(0.295,0.34),(0.325,0.26),(0.175,0.38),(0.245,0.13),
    (0.355,0.43),(0.375,0.39),(0.405,0.46),(0.435,0.49),(0.465,0.43),(0.495,0.51),(0.535,0.48),(0.565,0.53),
    (0.595,0.54),(0.635,0.62),(0.685,0.60),(0.725,0.65),(0.765,0.62),(0.805,0.68),(0.845,0.71),
    (0.395,0.29),(0.465,0.28),(0.555,0.30),(0.615,0.33),(0.695,0.29),(0.085,0.49),(0.305,0.44)]
test_pimf = [(0.05,0.17),(0.03,0.26),(0.07,0.07),(0.09,0.23),(0.04,0.35),(0.06,0.13),(0.11,0.30),(0.08,0.39),(0.02,0.29),(0.10,0.10),(0.05,0.42),(0.07,0.20),(0.12,0.25),(0.04,0.03),(0.09,0.33),(0.06,0.16),(0.03,0.11),(0.08,0.27),
    (0.13,0.28),(0.17,0.19),(0.21,0.33),(0.25,0.24),(0.29,0.31),(0.33,0.22),(0.15,0.16),(0.19,0.37),(0.23,0.15),(0.27,0.34),(0.31,0.27),(0.16,0.35),(0.22,0.21),(0.28,0.20),(0.34,0.30),(0.18,0.12),(0.26,0.29),(0.20,0.26),(0.30,0.17),(0.24,0.38),
    (0.38,0.30),(0.42,0.26),(0.46,0.28),(0.50,0.31),(0.55,0.25),(0.59,0.29),(0.63,0.32),(0.67,0.35),(0.68,0.37),(0.45,0.21),(0.53,0.18),(0.665,0.31),
    (0.36,0.40),(0.40,0.46),(0.44,0.43),(0.48,0.48),(0.52,0.52),(0.56,0.45),(0.60,0.55),(0.64,0.51),(0.68,0.58),(0.72,0.56),(0.76,0.62),(0.79,0.59),(0.83,0.66),(0.86,0.63),(0.55,0.60),(0.62,0.64),(0.74,0.68),(0.81,0.60),
    (0.04,0.47),(0.09,0.56),(0.16,0.62),(0.23,0.51),(0.30,0.57),(0.36,0.61),(0.13,0.44),(0.27,0.65),(0.20,0.68),
    (0.40,0.155),(0.60,0.20),(0.15,0.045),(0.02,0.05),(0.535,0.18),(0.675,0.22),
    (0.06,0.24),(0.08,0.15),(0.11,0.37),(0.14,0.25),(0.18,0.27),(0.22,0.31),(0.26,0.22),(0.30,0.33),(0.34,0.35),(0.39,0.38),(0.42,0.41),(0.47,0.44),(0.50,0.47),(0.54,0.49),(0.58,0.52),(0.62,0.57),(0.66,0.55),(0.70,0.61),(0.78,0.64),(0.84,0.67),(0.48,0.28),(0.57,0.28),(0.64,0.27),(0.17,0.45),(0.33,0.47)]
test_pimf_more = [(0.035,0.32),(0.055,0.26),(0.075,0.29),(0.095,0.15),(0.045,0.19),(0.065,0.09),(0.105,0.28),(0.085,0.22),
    (0.145,0.31),(0.165,0.24),(0.195,0.16),(0.215,0.27),(0.245,0.27),(0.275,0.21),(0.305,0.34),(0.325,0.24),(0.185,0.37),(0.235,0.10),
    (0.355,0.41),(0.385,0.45),(0.415,0.39),(0.445,0.44),(0.475,0.49),(0.505,0.46),(0.535,0.51),(0.565,0.49),
    (0.605,0.51),(0.635,0.60),(0.675,0.54),(0.715,0.63),(0.745,0.61),(0.795,0.64),(0.855,0.66),
    (0.375,0.26),(0.445,0.30),(0.515,0.29),(0.605,0.31),(0.655,0.26),(0.125,0.45),(0.275,0.42)]
test_trimf = [(0.04,0.13),(0.06,0.23),(0.08,0.30),(0.05,0.06),(0.07,0.17),(0.03,0.27),(0.09,0.35),(0.10,0.21),(0.06,0.10),(0.04,0.34),(0.08,0.14),(0.11,0.28),(0.05,0.20),(0.07,0.38),(0.09,0.08),(0.03,0.16),(0.06,0.31),(0.12,0.22),(0.08,0.025),(0.05,-0.012),(0.10,0.16),(0.04,0.25),
    (0.13,0.24),(0.16,0.31),(0.19,0.17),(0.22,0.29),(0.25,0.21),(0.28,0.33),(0.31,0.25),(0.34,0.30),(0.14,0.36),(0.17,0.21),(0.20,0.28),(0.23,0.14),(0.26,0.34),(0.29,0.20),(0.32,0.37),(0.15,0.18),(0.18,0.35),(0.21,0.25),(0.24,0.38),(0.27,0.16),(0.30,0.29),(0.33,0.22),(0.19,0.10),(0.25,0.27),
    (0.37,0.28),(0.41,0.33),(0.45,0.26),(0.49,0.31),(0.53,0.27),(0.57,0.24),(0.61,0.30),(0.65,0.29),(0.69,0.27),(0.43,0.20),(0.51,0.35),(0.635,0.19),
    (0.35,0.39),(0.39,0.44),(0.43,0.41),(0.47,0.47),(0.51,0.50),(0.55,0.46),(0.59,0.53),(0.63,0.49),(0.67,0.55),(0.71,0.52),(0.74,0.58),(0.78,0.55),(0.82,0.60),(0.85,0.58),(0.49,0.43),(0.61,0.57),(0.77,0.63),
    (0.02,0.47),(0.07,0.53),(0.12,0.59),(0.18,0.45),(0.24,0.57),(0.31,0.52),(0.37,0.60),(0.06,0.61),(0.21,0.50),(0.28,0.63),
    (0.345,0.12),(0.048,-0.015),(0.465,0.175),
    (0.05,0.18),(0.07,0.27),(0.09,0.26),(0.11,0.17),(0.06,0.38),(0.04,0.09),(0.13,0.18),(0.15,0.26),(0.17,0.30),(0.19,0.23),(0.21,0.33),(0.22,0.19),(0.24,0.31),(0.26,0.24),(0.27,0.36),(0.29,0.27),(0.31,0.39),(0.33,0.27),(0.36,0.34),(0.39,0.31),(0.40,0.39),(0.44,0.32),(0.47,0.25),(0.55,0.29),(0.59,0.27),(0.66,0.31),(0.42,0.45),(0.46,0.42),(0.53,0.45),(0.57,0.50),(0.65,0.53),(0.69,0.58),(0.80,0.60),(0.12,0.42),(0.20,0.44)]
test_trimf_more = [(0.035,0.23),(0.045,0.32),(0.055,0.14),(0.065,0.26),(0.075,0.33),(0.085,0.21),(0.095,0.29),(0.105,0.09),(0.115,0.33),(0.055,0.05),
    (0.125,0.26),(0.135,0.19),(0.145,0.28),(0.165,0.27),(0.175,0.17),(0.185,0.31),(0.205,0.21),(0.215,0.27),(0.235,0.24),(0.245,0.33),(0.265,0.28),(0.275,0.21),(0.295,0.31),(0.305,0.32),(0.325,0.25),(0.345,0.33),
    (0.355,0.36),(0.375,0.36),(0.395,0.43),(0.415,0.42),(0.435,0.38),(0.455,0.46),(0.485,0.45),(0.505,0.48),(0.525,0.47),(0.545,0.43),
    (0.575,0.51),(0.615,0.54),(0.645,0.56),(0.685,0.57),(0.725,0.62),(0.765,0.58),(0.835,0.62),
    (0.385,0.30),(0.425,0.30),(0.485,0.29),(0.545,0.32),(0.625,0.33),(0.075,0.46),(0.155,0.42)]
test_gbellmf = [(0.04,0.07),(0.06,0.15),(0.08,0.22),(0.05,0.29),(0.07,0.11),(0.09,0.28),(0.03,0.19),(0.10,0.20),(0.06,0.33),(0.08,0.12),(0.04,0.24),(0.11,0.26),(0.07,0.03),(0.05,0.36),(0.09,0.16),(0.12,0.21),(0.06,0.25),(0.08,0.30),(0.10,0.10),(0.03,0.28),(0.07,0.18),(0.05,0.14),
    (0.12,0.19),(0.14,0.27),(0.16,0.23),(0.18,0.31),(0.20,0.20),(0.22,0.27),(0.24,0.29),(0.26,0.30),(0.28,0.32),(0.30,0.28),(0.32,0.30),(0.34,0.35),(0.13,0.14),(0.15,0.32),(0.17,0.17),(0.19,0.24),(0.21,0.30),(0.23,0.21),(0.25,0.25),(0.27,0.33),(0.29,0.30),(0.31,0.22),(0.33,0.27),(0.35,0.33),(0.14,0.10),(0.16,0.12),(0.18,0.28),(0.20,0.17),(0.22,0.34),(0.24,0.19),(0.26,0.23),(0.28,0.27),(0.30,0.31),(0.17,0.36),(0.21,0.15),(0.25,0.34),(0.29,0.19),(0.19,0.37),(0.23,0.25),(0.27,0.14),
    (0.37,0.29),(0.40,0.32),(0.44,0.30),(0.48,0.27),(0.52,0.31),(0.56,0.28),(0.60,0.26),(0.64,0.30),(0.68,0.32),(0.70,0.30),(0.47,0.22),(0.57,0.195),(0.66,0.25),
    (0.34,0.40),(0.37,0.37),(0.40,0.43),(0.43,0.41),(0.46,0.45),(0.49,0.42),(0.52,0.47),(0.55,0.51),(0.58,0.49),(0.61,0.54),(0.64,0.62),(0.67,0.60),(0.70,0.65),(0.73,0.68),(0.76,0.66),(0.79,0.72),(0.82,0.69),(0.85,0.73),(0.42,0.36),(0.48,0.39),(0.54,0.55),(0.60,0.67),(0.72,0.72),(0.80,0.74),(0.84,0.66),
    (0.02,0.22),(0.07,0.46),(0.12,0.55),(0.19,0.41),(0.26,0.50),(0.33,0.48),(0.38,0.71),(0.10,0.60),(0.45,0.715),(0.51,0.73),(0.16,0.70),
    (0.55,0.19),(0.01,0.20),(0.06,0.015),(0.50,0.175),
    (0.05,0.11),(0.07,0.17),(0.09,0.23),(0.06,0.31),(0.08,0.37),(0.11,0.12),(0.13,0.23),(0.15,0.19),(0.16,0.30),(0.18,0.24),(0.19,0.34),(0.21,0.28),(0.22,0.22),(0.23,0.31),(0.24,0.26),(0.26,0.26),(0.27,0.38),(0.28,0.30),(0.29,0.25),(0.31,0.33),(0.32,0.36),(0.33,0.31),(0.34,0.26),(0.36,0.31),(0.12,0.29),(0.14,0.16),(0.10,0.15),(0.20,0.33),(0.25,0.32),(0.30,0.37),(0.35,0.29),(0.38,0.33),
    (0.41,0.28),(0.45,0.31),(0.50,0.29),(0.54,0.32),(0.62,0.31),(0.67,0.29),
    (0.38,0.42),(0.41,0.40),(0.44,0.44),(0.45,0.39),(0.47,0.47),(0.50,0.44),(0.51,0.40),(0.53,0.49),(0.56,0.47),(0.59,0.53),(0.62,0.57),(0.65,0.64),(0.68,0.62),(0.71,0.69),(0.74,0.66),(0.77,0.69),(0.81,0.72),(0.83,0.70),(0.86,0.68),(0.63,0.67),(0.57,0.57),
    (0.15,0.48),(0.22,0.42),(0.30,0.45),(0.05,0.42)]
test_gbellmf_more = [(0.035,0.22),(0.045,0.15),(0.055,0.33),(0.065,0.21),(0.075,0.27),(0.085,0.11),(0.095,0.27),(0.105,0.31),(0.115,0.23),(0.065,0.07),
    (0.125,0.28),(0.135,0.24),(0.145,0.20),(0.155,0.27),(0.165,0.31),(0.175,0.25),(0.185,0.19),(0.195,0.29),(0.205,0.34),(0.215,0.24),(0.225,0.31),(0.235,0.27),(0.245,0.31),(0.255,0.29),(0.265,0.33),(0.275,0.29),(0.285,0.30),(0.295,0.34),(0.305,0.28),(0.315,0.31),(0.325,0.31),(0.345,0.34),
    (0.355,0.39),(0.375,0.40),(0.395,0.42),(0.415,0.41),(0.435,0.45),(0.455,0.41),(0.475,0.42),(0.495,0.46),(0.515,0.46),(0.535,0.50),
    (0.565,0.53),(0.595,0.58),(0.635,0.59),(0.665,0.64),(0.705,0.66),(0.755,0.70),(0.835,0.73),
    (0.455,0.29),(0.535,0.31),(0.615,0.31),(0.095,0.46)]

train_sets = {"gaussmf": train_gaussmf + train_gaussmf_more, "gauss2mf": train_gauss2mf + train_gauss2mf_more,
              "dsigmf": train_dsigmf + train_dsigmf_more, "psigmf": train_psigmf + train_psigmf_more,
              "pimf": train_pimf + train_pimf_more, "trimf": train_trimf + train_trimf_more,
              "gbellmf": train_gbellmf + train_gbellmf_more}
test_sets = {"gaussmf": test_gaussmf + test_gaussmf_more, "gauss2mf": test_gauss2mf + test_gauss2mf_more,
             "dsigmf": test_dsigmf + test_dsigmf_more, "psigmf": test_psigmf + test_psigmf_more,
             "pimf": test_pimf + test_pimf_more, "trimf": test_trimf + test_trimf_more,
             "gbellmf": test_gbellmf + test_gbellmf_more}

# ---------------- figure ----------------
SERIF = "Liberation Serif, Times New Roman, serif"
SANS = "Liberation Sans, Arial, sans-serif"
AX = "#262626"

fig = go.Figure()
panels = [("x", "y", train_sets, train_R, "legend"), ("x2", "y2", test_sets, test_R, "legend2")]
for xa, ya, sets, Rs, lg in panels:
    for i, name in enumerate(names):
        pts = sets[name]
        fig.add_trace(go.Scatter(
            x=[p[0] for p in pts], y=[p[1] for p in pts], mode="markers",
            marker=dict(symbol="circle-open", size=5, color=colors[i], line=dict(width=1.3)),
            name=f"type of MFs={name} , R={Rs[i]}", xaxis=xa, yaxis=ya, legend=lg))
        if i == 0:
            fig.add_trace(go.Scatter(
                x=identity_line, y=identity_line, mode="lines",
                line=dict(color="black", dash="1px,3px", width=1),
                name="Y = T", xaxis=xa, yaxis=ya, legend=lg))

axis_common = dict(tickvals=tick_vals, ticktext=tick_labels, ticks="inside", ticklen=6,
                   tickcolor=AX, showline=True, linecolor=AX, linewidth=1, mirror="allticks",
                   showgrid=False, zeroline=False, automargin=False,
                   tickfont=dict(family=SANS, size=15, color=AX))
xr = [-0.015, 0.857]
yr = [-0.015, 0.859]
title_font = dict(family=SERIF, size=19.5, color=AX)

fig.update_layout(
    width=1266, height=643,
    margin=dict(l=63, r=0, t=34, b=48),
    paper_bgcolor="white", plot_bgcolor="white",
    xaxis=dict(domain=[0, 0.4647], range=xr, anchor="y",
               title=dict(text="Target", font=title_font, standoff=4), **axis_common),
    yaxis=dict(domain=[0, 1], range=yr, anchor="x",
               title=dict(text="Output  = 0.58*Target + 0.14", font=title_font, standoff=2), **axis_common),
    xaxis2=dict(domain=[0.5345, 1], range=xr, anchor="y2",
                title=dict(text="Target", font=title_font, standoff=4), **axis_common),
    yaxis2=dict(domain=[0, 1], range=yr, anchor="x2",
                title=dict(text="Output  = 0.58*Target + 0.14", font=title_font, standoff=2), **axis_common),
    legend=dict(x=0.0, y=1.0, xanchor="left", yanchor="top", bgcolor="white",
                bordercolor=AX, borderwidth=1, font=dict(family=SANS, size=14, color="black"),
                tracegroupgap=0),
    legend2=dict(x=0.5353, y=1.004, xanchor="left", yanchor="top", bgcolor="white",
                 bordercolor=AX, borderwidth=1, font=dict(family=SANS, size=14, color="black"),
                 tracegroupgap=0),
    annotations=[
        dict(text="Training Data, nMFs=4, MaxEpoch=600, P=%65", xref="paper", yref="paper",
             x=0.2327, y=1.029, xanchor="center", yanchor="middle", showarrow=False,
             font=dict(family=SERIF, size=20.5, color=AX)),
        dict(text="Testing Data , nMFs=4 , MaxEpoch=600, P=%65", xref="paper", yref="paper",
             x=0.769, y=1.029, xanchor="center", yanchor="middle", showarrow=False,
             font=dict(family=SERIF, size=20.5, color=AX)),
        dict(text="(a)", xref="paper", yref="paper", x=-0.0387, y=1.029, xanchor="center",
             yanchor="middle", showarrow=False, font=dict(family=SANS, size=21, color="black")),
        dict(text="(b)", xref="paper", yref="paper", x=0.497, y=1.029, xanchor="center",
             yanchor="middle", showarrow=False, font=dict(family=SANS, size=21, color="black")),
    ],
)

fig.write_html("out.html", config={"displayModeBar": False},
               post_script="document.body.style.margin='0';document.body.style.overflow='hidden';")
